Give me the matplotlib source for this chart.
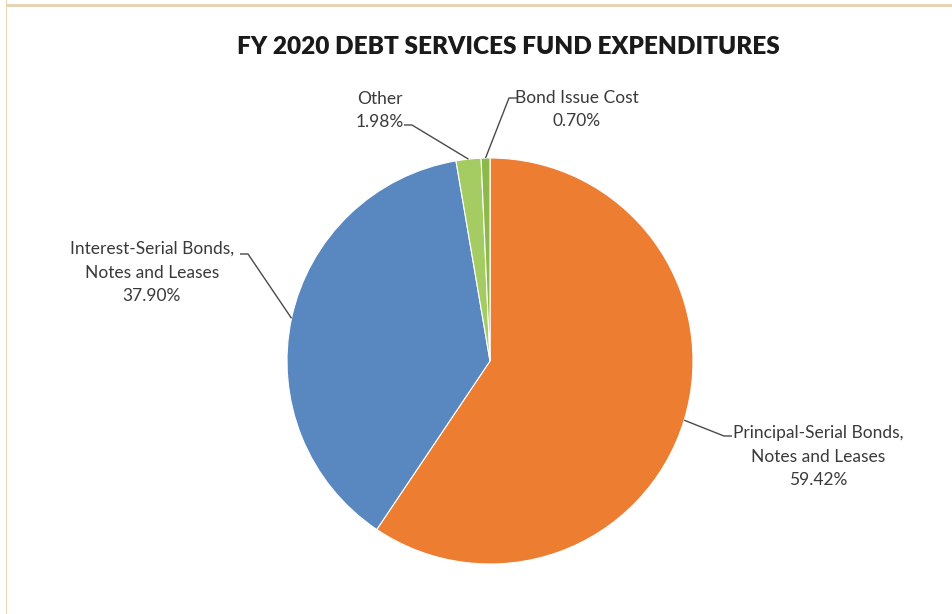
import matplotlib
matplotlib.use("Agg")
import matplotlib.pyplot as plt
from matplotlib.patches import Rectangle
import numpy as np

plt.rcParams['font.family'] = ['Lato', 'DejaVu Sans']

# slices, clockwise from twelve o'clock
labels = ['Principal-Serial Bonds,\nNotes and Leases',
          'Interest-Serial Bonds,\nNotes and Leases',
          'Other',
          'Bond Issue Cost']
shares = [59.42, 37.90, 1.98, 0.70]
colors = ['#ED7D31', '#5987C0', '#A4CC62', '#8DB84A']

W, H = 953, 614
CX, CY, R = 490, 614 - 361, 203

# label text centre and which side the leader line attaches to
label_pos = [(818, 614 - 456.5, 'left'),
             (152, 614 - 272.5, 'right'),
             (380, 614 - 110.5, 'right'),
             (577, 614 - 109.5, 'left')]
leader_attach = [(732, 614 - 436), (240, 614 - 254), (404, 614 - 125), (517, 614 - 98)]

fig = plt.figure(figsize=(W / 100, H / 100), dpi=100)
ax = fig.add_axes([0, 0, 1, 1])
ax.set_xlim(0, W)
ax.set_ylim(0, H)
ax.axis('off')

wedges, _ = ax.pie(shares, colors=colors, startangle=90, counterclock=False,
                   center=(CX, CY), radius=R,
                   wedgeprops=dict(edgecolor='white', linewidth=0.8))
ax.set_xlim(0, W)
ax.set_ylim(0, H)
ax.set_aspect('auto')

txt_color = '#3A3A3A'
for w, lab, val, (tx, ty, side), (ax_, ay_) in zip(wedges, labels, shares, label_pos, leader_attach):
    mid = np.deg2rad((w.theta1 + w.theta2) / 2)
    px = CX + R * np.cos(mid)
    py = CY + R * np.sin(mid)
    ax.text(tx, ty, '%s\n%.2f%%' % (lab, val), ha='center', va='center',
            fontsize=12.5, color=txt_color, linespacing=1.58)
    elbow = ax_ + (-8 if side == 'left' else 8)
    ax.plot([px, elbow, ax_], [py, ay_, ay_], color='#4A4A4A', lw=1.0,
            solid_capstyle='butt')

ax.text(508, 614 - 47, 'FY 2020 DEBT SERVICES FUND EXPENDITURES', ha='center',
        va='center', fontsize=17.6, fontweight='heavy', color='#1A1A1A')

# tan frame along the top and left edges
frame = '#E6D5B5'
fig.add_artist(Rectangle((6 / W, 0), 1.4 / W, 1, transform=fig.transFigure,
                         color=frame, lw=0))
fig.add_artist(Rectangle((6 / W, 1 - 7.3 / H), 1, 3.3 / H, transform=fig.transFigure,
                         color=frame, lw=0))

fig.savefig('out.png', dpi=100, facecolor='white')
